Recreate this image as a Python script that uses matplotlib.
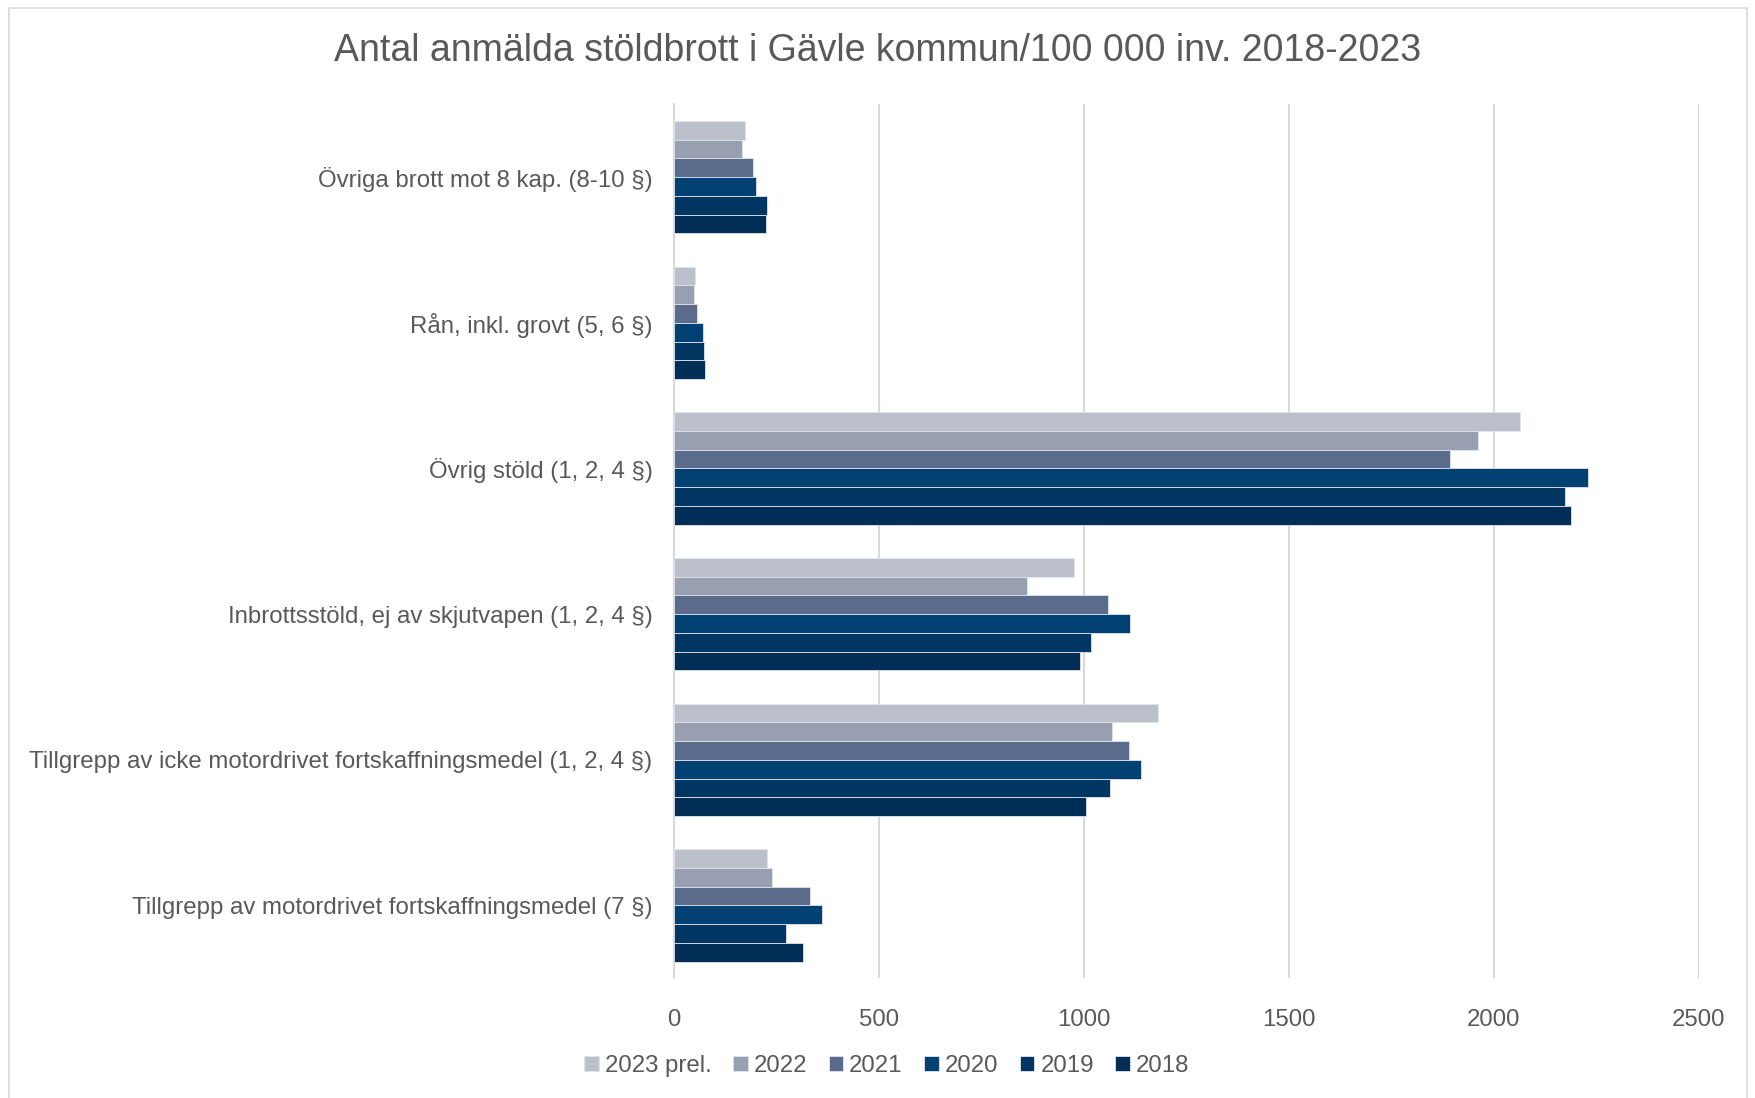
import numpy as np
import matplotlib
matplotlib.use("Agg")
import matplotlib.pyplot as plt
from matplotlib.patches import Rectangle

plt.rcParams['font.family'] = ['Liberation Sans', 'DejaVu Sans']

# categories, top to bottom
categories = [
    "Övriga brott mot 8 kap. (8-10 §)",
    "Rån, inkl. grovt (5, 6 §)",
    "Övrig stöld (1, 2, 4 §)",
    "Inbrottsstöld, ej av skjutvapen (1, 2, 4 §)",
    "Tillgrepp av icke motordrivet fortskaffningsmedel (1, 2, 4 §)",
    "Tillgrepp av motordrivet fortskaffningsmedel (7 §)",
]
years = ["2023 prel.", "2022", "2021", "2020", "2019", "2018"]

v2023 = [173, 51, 2064, 976, 1181, 228]
v2022 = [165, 49, 1962, 861, 1068, 240]
v2021 = [194, 57, 1892, 1059, 1110, 331]
v2020 = [199, 72, 2230, 1113, 1139, 361]
v2019 = [226, 74, 2174, 1016, 1063, 273]
v2018 = [224, 76, 2189, 990, 1006, 315]
series = [v2023, v2022, v2021, v2020, v2019, v2018]

colors = ["#BCC0CA", "#979FB1", "#5A6B8C", "#004072", "#003662", "#002E56"]
text_col = "#595959"

fig = plt.figure(figsize=(17.56, 10.98), dpi=100)
ax = fig.add_axes([0.3838, 0.109, 0.5837, 0.796])

y = np.arange(len(categories))
h = 0.77 / len(years)
for i, (vals, col, lab) in enumerate(zip(series, colors, years)):
    pos = y - 0.385 + h * (i + 0.5)
    ax.barh(pos, vals, height=h, color=col, label=lab,
            edgecolor="#E0E4EC", linewidth=0.6, zorder=3)

ax.set_xlim(0, 2500)
ax.set_ylim(len(categories) - 0.5, -0.5)
ax.set_xticks(np.arange(0, 2501, 500))
ax.set_yticks(y)
ax.set_yticklabels(categories)
ax.grid(axis="x", color="#D9D9D9", linewidth=1.5, zorder=0)
for s in ["top", "right", "bottom"]:
    ax.spines[s].set_visible(False)
ax.spines["left"].set_color("#D9D9D9")
ax.spines["left"].set_linewidth(1.5)
ax.tick_params(axis="both", length=0, labelsize=17.3, labelcolor=text_col)
ax.tick_params(axis="x", pad=22)
ax.tick_params(axis="y", pad=15.5)

fig.suptitle("Antal anmälda stöldbrott i Gävle kommun/100 000 inv. 2018-2023",
             y=0.97, fontsize=27, color=text_col)

fig.legend(loc="center", bbox_to_anchor=(0.505, 0.029), ncol=6, frameon=False,
           fontsize=17.3, labelcolor=text_col, handlelength=0.6, handleheight=0.6,
           handletextpad=0.25, columnspacing=0.9)

fig.patches.append(Rectangle((0.005, -0.01), 0.99, 1.003, transform=fig.transFigure,
                             fill=False, edgecolor="#D9D9D9", linewidth=1.2))

fig.savefig("out.png", dpi=100)
